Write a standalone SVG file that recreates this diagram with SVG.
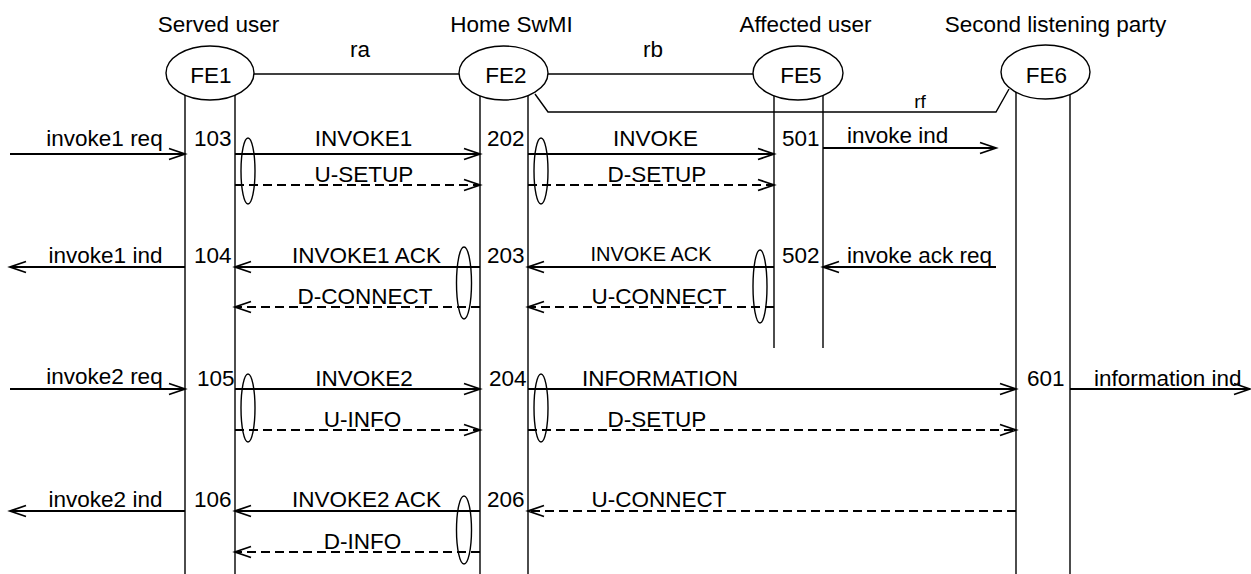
<svg xmlns="http://www.w3.org/2000/svg" width="1251" height="574" viewBox="0 0 1251 574">
<style>
text{font-family:"Liberation Sans",Arial,sans-serif;font-size:22.5px;fill:#000}
.m{text-anchor:middle}
.sm{font-size:20px}
.rf{font-size:19px}
.life{stroke:#000;stroke-width:1.4;fill:none}
.fe{fill:#fff;stroke:#000;stroke-width:1.4}
.grp{fill:none;stroke:#000;stroke-width:1.4}
.link{fill:none;stroke:#000;stroke-width:1.4}
.msg{stroke:#000;stroke-width:1.8;fill:none;marker-end:url(#ah)}
.d{stroke-dasharray:9 5}
</style>
<defs>
<marker id="ah" markerUnits="userSpaceOnUse" markerWidth="18" markerHeight="14" refX="16" refY="6" orient="auto" overflow="visible">
<path d="M0,0.5 L16,6 L0,11.5" fill="none" stroke="#000" stroke-width="1.8" stroke-dasharray="none"/>
</marker>
</defs>
<rect width="1251" height="574" fill="#fff"/>

<g id="fe1">
<line class="life" x1="185" y1="85" x2="185" y2="574"/>
<line class="life" x1="235" y1="85" x2="235" y2="574"/>
<ellipse class="fe" cx="210" cy="73" rx="44" ry="27"/>
<text class="m" x="211" y="83">FE1</text>
<text class="m" x="218.5" y="32">Served user</text>
</g>
<g id="fe2">
<line class="life" x1="480" y1="85" x2="480" y2="574"/>
<line class="life" x1="528" y1="85" x2="528" y2="574"/>
<ellipse class="fe" cx="503.5" cy="73" rx="44.5" ry="27"/>
<text class="m" x="506" y="83">FE2</text>
<text class="m" x="511.5" y="32">Home SwMI</text>
</g>
<g id="fe5">
<line class="life" x1="774" y1="85" x2="774" y2="348"/>
<line class="life" x1="823" y1="85" x2="823" y2="348"/>
<ellipse class="fe" cx="798" cy="73" rx="45" ry="27"/>
<text class="m" x="801" y="83">FE5</text>
<text class="m" x="805.5" y="32">Affected user</text>
</g>
<g id="fe6">
<line class="life" x1="1016" y1="85" x2="1016" y2="574"/>
<line class="life" x1="1070" y1="85" x2="1070" y2="574"/>
<ellipse class="fe" cx="1045.5" cy="72" rx="44.5" ry="27"/>
<text class="m" x="1046.5" y="83">FE6</text>
<text class="m" x="1055.5" y="32">Second listening party</text>
</g>

<g id="connectors">
<line class="link" x1="254" y1="74" x2="459" y2="74"/>
<line class="link" x1="548" y1="74" x2="753" y2="74"/>
<polyline class="link" points="535,94 548,112 996,112 1009,89"/>
<text class="m" x="360" y="57">ra</text>
<text class="m" x="653" y="57">rb</text>
<text class="m rf" x="920" y="108">rf</text>

<!-- row 1 -->
<line class="msg" x1="10" y1="154" x2="185" y2="154"/>
<line class="msg" x1="235" y1="154" x2="480" y2="154"/>
<line class="msg" x1="528" y1="154" x2="774" y2="154"/>
<line class="msg" x1="823" y1="148" x2="996" y2="148"/>
<line class="msg d" x1="235" y1="185" x2="480" y2="185"/>
<line class="msg d" x1="528" y1="185" x2="774" y2="185"/>
<ellipse class="grp" cx="248" cy="171" rx="7" ry="33"/>
<ellipse class="grp" cx="541" cy="171" rx="7" ry="33"/>
<text class="m" x="104.5" y="146">invoke1 req</text>
<text x="194" y="146">103</text>
<text class="m" x="363.5" y="146">INVOKE1</text>
<text x="487" y="146">202</text>
<text class="m" x="655.5" y="146">INVOKE</text>
<text x="782" y="146">501</text>
<text x="847" y="143">invoke ind</text>
<text class="m" x="364" y="182">U-SETUP</text>
<text class="m" x="657" y="182">D-SETUP</text>

<!-- row 2 -->
<line class="msg" x1="185" y1="267" x2="10" y2="267"/>
<line class="msg" x1="480" y1="267" x2="235" y2="267"/>
<line class="msg" x1="774" y1="267" x2="528" y2="267"/>
<line class="msg" x1="996" y1="267" x2="823" y2="267"/>
<line class="msg d" x1="480" y1="307" x2="235" y2="307"/>
<line class="msg d" x1="774" y1="307" x2="528" y2="307"/>
<ellipse class="grp" cx="464" cy="283" rx="7.5" ry="36"/>
<ellipse class="grp" cx="760" cy="286.5" rx="7" ry="36.5"/>
<text class="m" x="105.5" y="263">invoke1 ind</text>
<text x="194" y="263">104</text>
<text class="m" x="366.5" y="263">INVOKE1 ACK</text>
<text x="487" y="263">203</text>
<text class="m sm" x="651" y="261">INVOKE ACK</text>
<text x="782" y="263">502</text>
<text x="847" y="263">invoke ack req</text>
<text class="m" x="365" y="304">D-CONNECT</text>
<text class="m" x="659" y="304">U-CONNECT</text>

<!-- row 3 -->
<line class="msg" x1="10" y1="389" x2="185" y2="389"/>
<line class="msg" x1="235" y1="389" x2="480" y2="389"/>
<line class="msg" x1="528" y1="389" x2="1016" y2="389"/>
<line class="msg" x1="1070" y1="389" x2="1250" y2="389"/>
<line class="msg d" x1="235" y1="430" x2="480" y2="430"/>
<line class="msg d" x1="528" y1="430" x2="1016" y2="430"/>
<ellipse class="grp" cx="248" cy="408" rx="7" ry="34"/>
<ellipse class="grp" cx="541" cy="408" rx="7" ry="34"/>
<text class="m" x="104.5" y="384">invoke2 req</text>
<text x="197" y="386">105</text>
<text class="m" x="364" y="386">INVOKE2</text>
<text x="489" y="386">204</text>
<text class="m" x="660" y="386">INFORMATION</text>
<text x="1027" y="386">601</text>
<text x="1094" y="386">information ind</text>
<text class="m" x="362.5" y="427">U-INFO</text>
<text class="m" x="657" y="427">D-SETUP</text>

<!-- row 4 -->
<line class="msg" x1="185" y1="511" x2="10" y2="511"/>
<line class="msg" x1="480" y1="511" x2="235" y2="511"/>
<line class="msg d" x1="1016" y1="511" x2="528" y2="511"/>
<line class="msg d" x1="480" y1="552" x2="235" y2="552"/>
<ellipse class="grp" cx="464" cy="530" rx="7.5" ry="34"/>
<text class="m" x="105.5" y="507">invoke2 ind</text>
<text x="194" y="507">106</text>
<text class="m" x="366.5" y="507">INVOKE2 ACK</text>
<text x="487" y="507">206</text>
<text class="m" x="659" y="507">U-CONNECT</text>
<text class="m" x="362.5" y="549">D-INFO</text>
</g>
</svg>
